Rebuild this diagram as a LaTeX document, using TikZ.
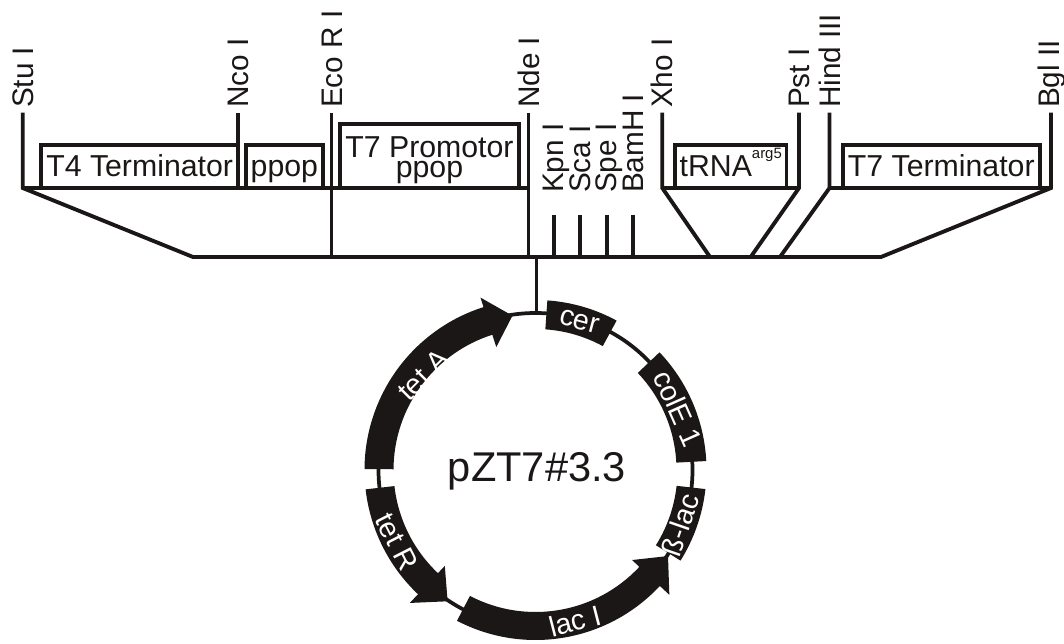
\documentclass[tikz,border=0pt]{standalone}
\usepackage{fontspec}
\setmainfont{Liberation Sans}
\usetikzlibrary{positioning}
\definecolor{ink}{HTML}{1A1716}
\tikzset{
    sitelabel/.style={rotate=90, anchor=base west, inner sep=0pt, outer sep=0pt, text=ink, font=\fontsize{22.3}{24}\selectfont},
    genebox/.style={draw=ink, rectangle, inner sep=0pt, minimum height=43*0.75pt, text height=15.75pt, text depth=0pt, text=ink, font=\fontsize{22.7}{24}\selectfont},
    seglabel/.style={inner sep=0pt, outer sep=0pt, text=white, font=\fontsize{21.5}{24}\selectfont},
    segment/.style={fill=ink, draw=none}
}

\begin{document}
\begin{tikzpicture}[x=0.75pt, y=0.75pt, line width=2.9pt, draw=ink]
    \useasboundingbox (0,0) rectangle (1064,643);

    % Site coordinates
    \coordinate (stuTop) at (22.7,530.3);
    \coordinate (stuBot) at (22.7,455);
    \coordinate (ncoTop) at (238,530.3);
    \coordinate (ncoBot) at (238,455);
    \coordinate (ecoTop) at (331.5,530.3);
    \coordinate (ecoBot) at (331.5,386);
    \coordinate (ndeTop) at (528.5,530.3);
    \coordinate (ndeMid) at (528.5,455);
    \coordinate (ndeBot) at (528.5,386);
    \coordinate (xhoTop) at (662.3,530.3);
    \coordinate (xhoBot) at (662.3,455);
    \coordinate (pstTop) at (799,530.3);
    \coordinate (pstBot) at (799,455);
    \coordinate (hinTop) at (829.5,530.3);
    \coordinate (hinBot) at (829.5,455);
    \coordinate (bglTop) at (1051,530.3);
    \coordinate (bglBot) at (1051,455);

    % Base line
    \coordinate (baseL) at (193,386);
    \coordinate (baseR) at (881,386);
    \coordinate (xhoEnd) at (710,386);
    \coordinate (pstEnd) at (750.7,386);
    \coordinate (hinEnd) at (780,386);
    \coordinate (kpnTop) at (553.7,428);
    \coordinate (kpnEnd) at (553.7,386);
    \coordinate (scaTop) at (580,428);
    \coordinate (scaEnd) at (580,386);
    \coordinate (speTop) at (606.7,428);
    \coordinate (speEnd) at (606.7,386);
    \coordinate (bamTop) at (633,428);
    \coordinate (bamEnd) at (633,386);
    \coordinate (stemTop) at (536.5,386);
    \coordinate (stemEnd) at (536.5,330);

    % Site labels
    \node[sitelabel] (stuLabel) at (33.6,535) {Stu I};
    \node[sitelabel] (ncoLabel) at (248.6,535) {Nco I};
    \node[sitelabel] (ecoLabel) at (342.6,535) {Eco R I};
    \node[sitelabel] (ndeLabel) at (539,535) {Nde I};
    \node[sitelabel] (kpnLabel) at (563.4,450) {Kpn I};
    \node[sitelabel] (scaLabel) at (590,450) {Sca I};
    \node[sitelabel] (speLabel) at (616.5,450) {Spe I};
    \node[sitelabel] (bamLabel) at (643,450) {BamH I};
    \node[sitelabel] (xhoLabel) at (672.7,535) {Xho I};
    \node[sitelabel] (pstLabel) at (809.7,535) {Pst I};
    \node[sitelabel] (hinLabel) at (840,535) {Hind III};
    \node[sitelabel] (bglLabel) at (1059.6,535) {Bgl II};

    % Boxes
    \node[genebox, minimum width=196.7*0.75pt] (t4term) at (139.65,476.5) {T4 Terminator};
    \node[genebox, minimum width=76.7*0.75pt] (ppopA) at (284.35,476.5) {ppop};
    \node[genebox, minimum width=179*0.75pt, minimum height=64*0.75pt] (t7prom) at (429.5,487) {};
    \node[inner sep=0pt, outer sep=0pt, align=center, text=ink, font=\fontsize{22.7}{15}\selectfont] (t7text) at (429.5,483) {T7 Promotor\\ppop};
    \node[genebox, minimum width=111.5*0.75pt] (trna) at (730.75,476.5) {tRNA\raisebox{.6em}{\fontsize{11.2}{11}\selectfont arg5}};
    \node[genebox, minimum width=197.1*0.75pt] (t7term) at (941.25,476.5) {T7 Terminator};

    % Edges
    \draw (ncoTop) -- (ncoBot);
    \draw (ecoTop) -- (ecoBot);
    \draw (ndeTop) -- (ndeBot);
    \draw (stuBot) -- (ndeMid);
    \draw (stuTop) -- (stuBot) -- (baseL) -- (baseR) -- (bglBot) -- (bglTop);
    \draw (hinBot) -- (bglBot);
    \draw (hinTop) -- (hinBot) -- (hinEnd);
    \draw (xhoTop) -- (xhoBot) -- (xhoEnd);
    \draw (pstTop) -- (pstBot) -- (pstEnd);
    \draw (xhoBot) -- (pstBot);
    \draw (kpnTop) -- (kpnEnd);
    \draw (scaTop) -- (scaEnd);
    \draw (speTop) -- (speEnd);
    \draw (bamTop) -- (bamEnd);
    \draw (stemTop) -- (stemEnd);

    % Plasmid
    \begin{scope}[shift={(535.5,173)}]
        \coordinate (ringC) at (0,0);
        \draw[line width=2.8pt] (ringC) circle[radius=157];
        \fill[segment] (86:170) arc[start angle=86, end angle=61.5, radius=170] -- (61.5:141) arc[start angle=61.5, end angle=86, radius=141] -- cycle;
        \fill[segment] (43.5:171) arc[start angle=43.5, end angle=3, radius=171] -- (3:141) arc[start angle=3, end angle=43.5, radius=141] -- cycle;
        \fill[segment] (-6.4:171) arc[start angle=-6.4, end angle=-32, radius=171] -- (-32:142) arc[start angle=-32, end angle=-6.4, radius=142] -- cycle;
        \fill[segment] (242.5:170) arc[start angle=242.5, end angle=317, radius=170] -- (317:183) -- (327:158) -- (317:132) -- (317:142) arc[start angle=317, end angle=242.5, radius=142] -- cycle;
        \fill[segment] (186.5:171) arc[start angle=186.5, end angle=226.6, radius=171] -- (226.6:183) -- (236.2:158) -- (226.6:132) -- (226.6:142) arc[start angle=226.6, end angle=186.5, radius=142] -- cycle;
        \fill[segment] (179.7:171) arc[start angle=179.7, end angle=107.7, radius=171] -- (107.7:181) -- (98.5:156) -- (107.7:129) -- (107.7:142) arc[start angle=107.7, end angle=179.7, radius=142] -- cycle;
    \end{scope}

    % Plasmid labels
    \node[inner sep=0pt, outer sep=0pt, text=ink, font=\fontsize{31.2}{34}\selectfont, anchor=base] (plasmid) at (537,161.3) {pZT7\#3.3};
    \node[seglabel, rotate=-15] (cer) at (579.3,321.3) {cer};
    \node[seglabel, rotate=-66] (colE) at (678.3,234.7) {colE 1};
    \node[seglabel, rotate=71] (blac) at (680,118) {ß-lac};
    \node[seglabel, rotate=14.5] (lacI) at (575,22) {lac I};
    \node[seglabel, rotate=-63] (tetR) at (396.7,101.3) {tet R};
    \node[seglabel, rotate=45] (tetA) at (423.3,268) {tet A};
\end{tikzpicture}
\end{document}
